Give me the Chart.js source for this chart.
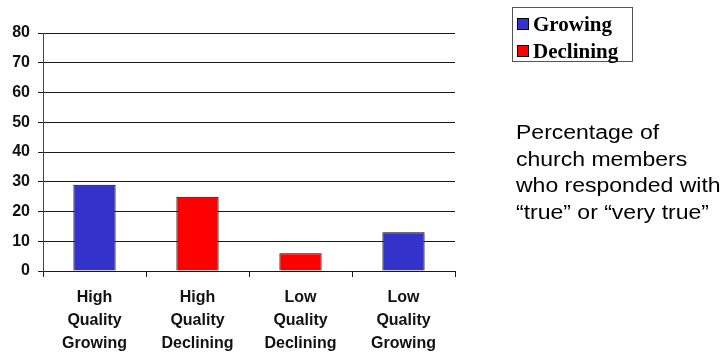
<!DOCTYPE html>
<html>
<head>
<meta charset="utf-8">
<script src="https://cdn.jsdelivr.net/npm/chart.js@4/dist/chart.umd.min.js"></script>
<style>
  html, body { margin: 0; padding: 0; background: #fff; }
  #wrap { position: relative; width: 723px; height: 354px; overflow: hidden; }
  #chart { position: absolute; left: 0; top: 0; }
  #legend {
    position: absolute; left: 512px; top: 7px; width: 119px; height: 53px;
    border: 1px solid #555; background: #fff;
    font: bold 21px "Liberation Serif", "Times New Roman", serif; color: #000;
  }
  .item { position: absolute; left: 4px; height: 24px; line-height: 24px; white-space: nowrap; }
  .swatch { position: absolute; left: 0; top: 6px; width: 10px; height: 10px; border: 1px solid #000; }
  .item span.txt { position: absolute; left: 16px; top: 0; }
  #note {
    position: absolute; left: 516px; top: 119px;
    font: 20px "Liberation Sans", Arial, sans-serif; line-height: 26.5px; color: #000;
    white-space: nowrap; transform: scaleX(1.15); transform-origin: left top;
  }
</style>
</head>
<body>
<div id="wrap">
  <canvas id="chart" width="723" height="354"></canvas>
  <div id="legend"></div>
  <div id="note">Percentage of<br>church members<br>who responded with<br>&ldquo;true&rdquo; or &ldquo;very true&rdquo;</div>
</div>
<script>
// Church groups on the x axis (one label line per array entry)
const categories = [
  ["High", "Quality", "Growing"],
  ["High", "Quality", "Declining"],
  ["Low", "Quality", "Declining"],
  ["Low", "Quality", "Growing"]
];
// Percent answering "true" / "very true", split by congregation trend
const growingValues   = [29, null, null, 13];
const decliningValues = [null, 25, 6, null];
const seriesNames  = ["Growing", "Declining"];
const seriesColors = ["#3333CC", "#FF0000"];
const yTicks = { min: 0, max: 80, step: 10 };

const lineColor = "#1a1a1a";

new Chart(document.getElementById("chart"), {
  type: "bar",
  data: {
    labels: categories,
    datasets: [
      { label: seriesNames[0], data: growingValues, backgroundColor: seriesColors[0] },
      { label: seriesNames[1], data: decliningValues, backgroundColor: seriesColors[1] }
    ]
  },
  options: {
    responsive: false,
    animation: false,
    events: [],
    skipNull: true,
    datasets: {
      bar: {
        borderColor: "#000",
        borderWidth: 1,
        barPercentage: 0.41,
        categoryPercentage: 1.0,
        grouped: true
      }
    },
    layout: { padding: { top: 33, right: 268, left: 0, bottom: 0 } },
    plugins: { legend: { display: false }, tooltip: { enabled: false } },
    scales: {
      x: {
        afterFit: (s) => { s.height = 83; },
        grid: {
          offset: true, drawOnChartArea: false, drawTicks: true,
          tickLength: 6, color: lineColor, lineWidth: 1
        },
        border: { display: true, color: lineColor, width: 1 },
        ticks: {
          color: "#111",
          padding: 9,
          maxRotation: 0,
          font: { family: "Liberation Sans, Arial, sans-serif", size: 16, weight: "bold", lineHeight: "23px" }
        }
      },
      y: {
        min: yTicks.min, max: yTicks.max,
        afterFit: (s) => { s.width = 43; },
        grid: { color: lineColor, lineWidth: 1, drawTicks: true, tickLength: 5 },
        border: { display: true, color: "#444", width: 1 },
        ticks: {
          stepSize: yTicks.step,
          color: "#111",
          padding: 8,
          font: { family: "Liberation Sans, Arial, sans-serif", size: 16, weight: "bold" }
        }
      }
    }
  }
});

// Legend box built from the same series names and colours
const legend = document.getElementById("legend");
seriesNames.forEach((name, i) => {
  const item = document.createElement("div");
  item.className = "item";
  item.style.top = (4 + i * 27) + "px";
  const sw = document.createElement("span");
  sw.className = "swatch";
  sw.style.background = seriesColors[i];
  const txt = document.createElement("span");
  txt.className = "txt";
  txt.textContent = name;
  item.appendChild(sw);
  item.appendChild(txt);
  legend.appendChild(item);
});
</script>
</body>
</html>
